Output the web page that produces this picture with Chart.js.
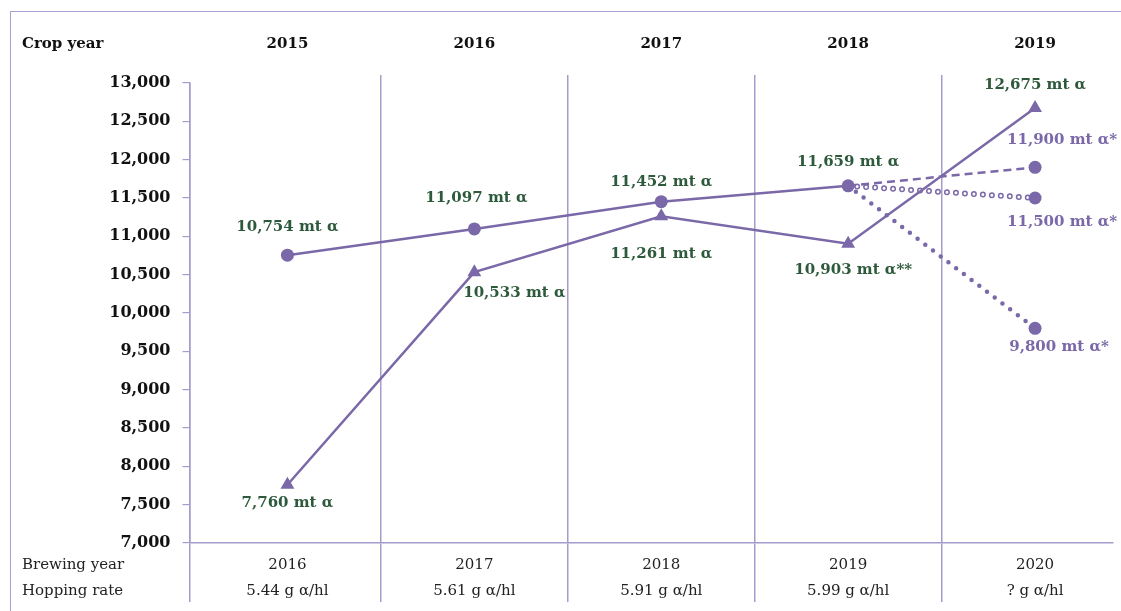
<!DOCTYPE html>
<html>
<head>
<meta charset="utf-8">
<script src="https://cdn.jsdelivr.net/npm/chart.js@4/dist/chart.umd.min.js"></script>
<style>
  body { margin: 0; background: #fff; }
  .wrap { position: relative; width: 1121px; height: 611px; }
  .frame { position: absolute; left: 10px; top: 11px; right: 0; bottom: 0;
           border-top: 1.5px solid #aaa0cd; border-left: 1.5px solid #aaa0cd; pointer-events: none; }
  canvas { position: absolute; left: 0; top: 0; }
</style>
</head>
<body>
<div class="wrap">
  <canvas id="hopChart" width="1121" height="611"></canvas>
  <div class="frame"></div>
</div>
<script>
const cropYears = ['2015', '2016', '2017', '2018', '2019'];
const brewingYears = ['2016', '2017', '2018', '2019', '2020'];
const hoppingRates = ['5.44 g α/hl', '5.61 g α/hl', '5.91 g α/hl', '5.99 g α/hl', '? g α/hl'];

// alpha demand (circles) and alpha crop (triangles), mt alpha
const alphaDemand = [10754, 11097, 11452, 11659];
const alphaCrop = [7760, 10533, 11261, 10903, 12675];
const cropSuffix = ['', '', '', '**', ''];
// 2019 demand scenarios, starting from the 2018 value
const scenarioHigh = [11659, 11900];
const scenarioMid = [11659, 11500];
const scenarioLow = [11659, 9800];

const PURPLE = '#7a68a8';
const GRID = '#a69ccc';
const GREEN = '#2e5a3c';
const X_MIN = -0.524;
const X_MAX = 4.417;

function fmt(v){
  return v.toLocaleString('en-US') + ' mt α';
}
function points(values, start){
  return values.map(function(v, i){ return {x: start + i, y: v}; });
}
function isCat(v){
  return Math.abs(v - Math.round(v)) < 1e-6;
}

const valueLabels = {
  id: 'valueLabels',
  afterDatasetsDraw: function(chart){
    const ctx = chart.ctx;
    ctx.save();
    ctx.font = 'bold 15px "DejaVu Serif"';
    ctx.textAlign = 'center';
    ctx.textBaseline = 'middle';
    chart.data.datasets.forEach(function(ds, i){
      if(!ds.labelText) return;
      const meta = chart.getDatasetMeta(i);
      meta.data.forEach(function(pt, j){
        const text = ds.labelText[j];
        if(!text) return;
        const off = ds.labelOffset[j];
        ctx.fillStyle = ds.labelColor;
        ctx.fillText(text, pt.x + off[0], pt.y + off[1]);
      });
    });
    // row headings
    const area = chart.chartArea;
    ctx.textAlign = 'left';
    ctx.fillStyle = '#111';
    ctx.fillText('Crop year', 22, area.top - 39);
    ctx.font = '15px "DejaVu Serif"';
    ctx.fillStyle = '#222';
    ctx.fillText('Brewing year', 22, area.bottom + 22);
    ctx.fillText('Hopping rate', 22, area.bottom + 48);
    ctx.restore();
  }
};

const gridTicks = [X_MIN, 0, 0.5, 1, 1.5, 2, 2.5, 3, 3.5, 4];
const topTicks = [0, 0.5, 1, 1.5, 2, 2.5, 3, 3.5, 4];

const ctx = document.getElementById('hopChart').getContext('2d');
// eslint-disable-next-line no-undef
const chart = new Chart(ctx, {
  type: 'line',
  data: {
    datasets: [
      {
        // alpha demand, solid with circles
        data: points(alphaDemand, 0),
        borderColor: PURPLE,
        borderWidth: 2.5,
        pointStyle: 'circle',
        pointRadius: 6.5,
        pointBackgroundColor: PURPLE,
        pointBorderWidth: 0,
        order: 1,
        labelText: alphaDemand.map(fmt),
        labelColor: GREEN,
        labelOffset: [[0, -28], [2, -31], [0, -20], [0, -24]]
      },
      {
        // alpha crop, solid with triangles
        data: points(alphaCrop, 0),
        borderColor: PURPLE,
        borderWidth: 2.5,
        pointStyle: 'triangle',
        pointRadius: 8,
        pointBackgroundColor: PURPLE,
        pointBorderWidth: 0,
        order: 2,
        labelText: alphaCrop.map(function(v, i){ return fmt(v) + cropSuffix[i]; }),
        labelColor: GREEN,
        labelOffset: [[0, 18], [40, 21], [0, 38], [5, 26], [0, -23]]
      },
      {
        // high scenario, dashed
        data: points(scenarioHigh, 3),
        borderColor: PURPLE,
        borderWidth: 2.5,
        borderDash: [8, 5],
        pointRadius: [0, 6.5],
        pointBackgroundColor: PURPLE,
        pointBorderWidth: 0,
        order: 5,
        labelText: ['', fmt(scenarioHigh[1]) + '*'],
        labelColor: PURPLE,
        labelOffset: [[0, 0], [27, -27]]
      },
      {
        // mid scenario, ring dots (outer)
        data: points(scenarioMid, 3),
        borderColor: PURPLE,
        borderWidth: 6,
        borderDash: [0, 9],
        borderCapStyle: 'round',
        pointRadius: 0,
        order: 7
      },
      {
        // mid scenario, ring dots (inner)
        data: points(scenarioMid, 3),
        borderColor: '#ffffff',
        borderWidth: 3,
        borderDash: [0, 9],
        borderCapStyle: 'round',
        pointRadius: [0, 6.5],
        pointBackgroundColor: PURPLE,
        pointBorderWidth: 0,
        order: 6,
        labelText: ['', fmt(scenarioMid[1]) + '*'],
        labelColor: PURPLE,
        labelOffset: [[0, 0], [27, 24]]
      },
      {
        // low scenario, dotted
        data: points(scenarioLow, 3),
        borderColor: PURPLE,
        borderWidth: 4.5,
        borderDash: [0, 9.7],
        borderCapStyle: 'round',
        pointRadius: [0, 6.5],
        pointBackgroundColor: PURPLE,
        pointBorderWidth: 0,
        order: 4,
        labelText: ['', fmt(scenarioLow[1]) + '*'],
        labelColor: PURPLE,
        labelOffset: [[0, 0], [24, 19]]
      }
    ]
  },
  options: {
    responsive: false,
    animation: false,
    layout: { padding: { left: 0, right: 8, top: 0, bottom: 0 } },
    plugins: {
      legend: { display: false },
      tooltip: { enabled: false }
    },
    scales: {
      x: {
        type: 'linear',
        position: 'bottom',
        min: X_MIN,
        max: X_MAX,
        afterBuildTicks: function(scale){
          scale.ticks = gridTicks.map(function(v){ return {value: v}; });
        },
        afterFit: function(scale){ scale.height = 68; },
        grid: {
          color: function(c){ return isCat(c.tick.value) ? 'rgba(0,0,0,0)' : GRID; },
          lineWidth: 1.5,
          tickLength: 59
        },
        border: { display: true, color: GRID, width: 1.5 },
        ticks: {
          autoSkip: false,
          maxRotation: 0,
          padding: -50,
          color: '#222',
          font: { family: 'DejaVu Serif', size: 15, lineHeight: '26px' },
          callback: function(v){
            return isCat(v) ? [brewingYears[Math.round(v)], hoppingRates[Math.round(v)]] : '';
          }
        }
      },
      xTop: {
        type: 'linear',
        position: 'top',
        min: X_MIN,
        max: X_MAX,
        afterBuildTicks: function(scale){
          scale.ticks = topTicks.map(function(v){ return {value: v}; });
        },
        afterFit: function(scale){ scale.height = 83; },
        grid: {
          drawOnChartArea: false,
          color: function(c){ return isCat(c.tick.value) ? 'rgba(0,0,0,0)' : GRID; },
          lineWidth: 1.5,
          tickLength: 8
        },
        border: { display: false },
        ticks: {
          autoSkip: false,
          maxRotation: 0,
          padding: 22,
          color: '#111',
          font: { family: 'DejaVu Serif', size: 15, weight: 'bold' },
          callback: function(v){ return isCat(v) ? cropYears[Math.round(v)] : ''; }
        }
      },
      y: {
        min: 7000,
        max: 13000,
        afterFit: function(scale){ scale.width = 189.5; },
        grid: {
          drawOnChartArea: false,
          color: GRID,
          lineWidth: 1.2,
          tickLength: 7
        },
        border: { display: true, color: GRID, width: 1.5 },
        ticks: {
          stepSize: 500,
          padding: 12,
          color: '#111',
          font: { family: 'DejaVu Serif', size: 16, weight: 'bold' },
          callback: function(v){ return v.toLocaleString('en-US'); }
        }
      }
    }
  },
  plugins: [valueLabels]
});
</script>
</body>
</html>
